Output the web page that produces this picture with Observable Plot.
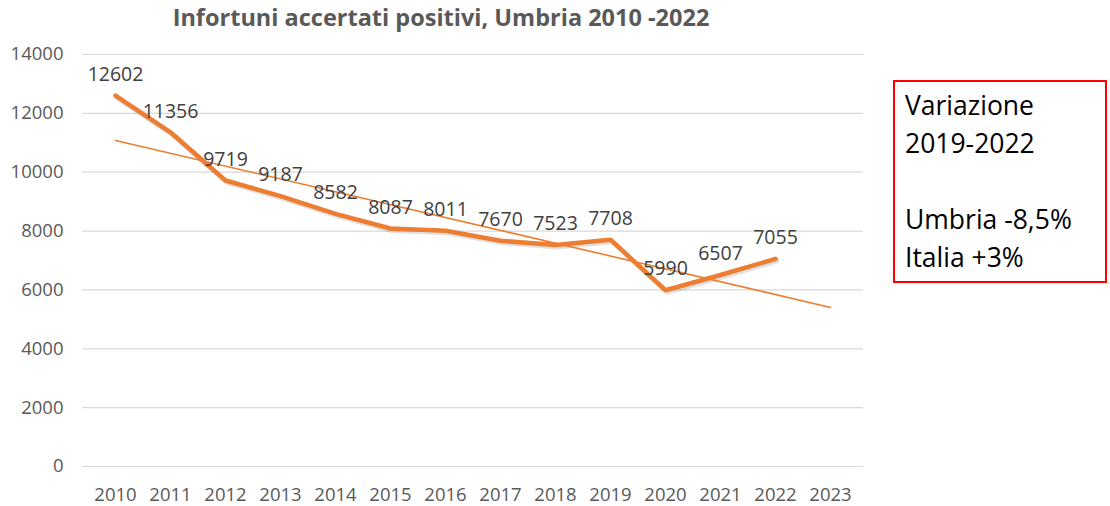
<!DOCTYPE html>
<html>
<head>
<meta charset="utf-8">
<script src="https://cdn.jsdelivr.net/npm/d3@7"></script>
<script src="https://cdn.jsdelivr.net/npm/@observablehq/plot@0.6"></script>
<style>
  html, body { margin: 0; padding: 0; background: #fff; }
  #wrap { position: relative; width: 1110px; height: 506px; overflow: hidden; }
  #title { position: absolute; left: 0; width: 882px; top: 1px; text-align: center;
    font-family: "Open Sans", sans-serif; font-weight: 700; font-size: 23.5px; letter-spacing: 0px; color: #595959; }
  #box { position: absolute; left: 893px; top: 80px; width: 214px; height: 203px;
    border: 2px solid #ff0000; box-sizing: border-box;
    font-family: "Open Sans", sans-serif; font-size: 26.5px; line-height: 38px; color: #000;
    padding: 4px 0 0 10px; }
  svg { font-family: "Open Sans", sans-serif; }
</style>
</head>
<body>
<div id="wrap">
  <div id="chart"></div>
  <div id="title"></div>
  <div id="box"></div>
</div>
<script>
const years = ["2010","2011","2012","2013","2014","2015","2016","2017","2018","2019","2020","2021","2022"];
const axisYears = ["2010","2011","2012","2013","2014","2015","2016","2017","2018","2019","2020","2021","2022","2023"];
const values = [12602, 11356, 9719, 9187, 8582, 8087, 8011, 7670, 7523, 7708, 5990, 6507, 7055];
const trendYears = ["2010", "2023"];
const trendValues = [11080, 5405];
const yTicks = [0, 2000, 4000, 6000, 8000, 10000, 12000, 14000];
const titleText = "Infortuni accertati positivi, Umbria 2010 -2022";
const boxLines = ["Variazione", "2019-2022", "", "Umbria -8,5%", "Italia +3%"];

const data = years.map((y, i) => ({year: y, value: values[i]}));
const trend = trendYears.map((y, i) => ({year: y, value: trendValues[i]}));

const orange = "#ED7D31";

const chart = Plot.plot({
  width: 1110,
  height: 506,
  marginLeft: 82,
  marginRight: 247,
  marginTop: 54,
  marginBottom: 40,
  style: { fontFamily: "Open Sans, sans-serif", background: "#fff", overflow: "visible" },
  x: { type: "point", domain: axisYears, padding: 0.5, label: null },
  y: { domain: [0, 14000], label: null },
  marks: [
    Plot.ruleY(yTicks, { stroke: "#d9d9d9", strokeWidth: 1.2 }),
    Plot.axisY(yTicks, { tickSize: 0, tickPadding: 19, fontSize: 18.5, fill: "#595959", label: null, tickFormat: d => String(d) }),
    Plot.axisX(axisYears, { tickSize: 0, tickPadding: 21, fontSize: 18.5, fill: "#595959", label: null }),
    Plot.line(data, { x: "year", y: "value", stroke: "#000", strokeOpacity: 0.12, strokeWidth: 5, dx: 1.5, dy: 2 }),
    Plot.line(data, { x: "year", y: "value", stroke: orange, strokeWidth: 4.5, strokeLinejoin: "miter" }),
    Plot.line(trend, { x: "year", y: "value", stroke: orange, strokeWidth: 1.6 }),
    Plot.text(data, { x: "year", y: "value", text: d => String(d.value), dy: -21, fontSize: 19.5, fill: "#404040" })
  ]
});
document.getElementById("chart").appendChild(chart);
document.getElementById("title").textContent = titleText;
const box = document.getElementById("box");
boxLines.forEach(l => {
  const div = document.createElement("div");
  div.innerHTML = l === "" ? "&nbsp;" : l;
  box.appendChild(div);
});
</script>
</body>
</html>
